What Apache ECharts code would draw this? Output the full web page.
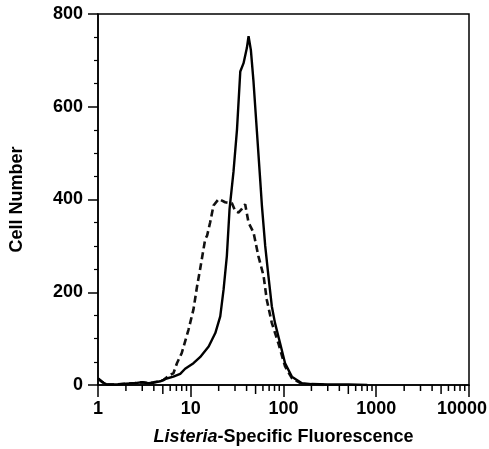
<!DOCTYPE html>
<html>
<head>
<meta charset="utf-8">
<script src="https://cdn.jsdelivr.net/npm/echarts@6/dist/echarts.min.js"></script>
<style>
html,body{margin:0;padding:0;background:#fff;}
#c{width:489px;height:449px;}
</style>
</head>
<body>
<div id="c"></div>
<script>
// Fluorescence (x, log scale) and cell counts (y)
const solidX = [1, 1.05, 1.12, 1.25, 1.6, 2, 2.5, 3, 3.5, 4, 4.7, 5.5, 6.5, 7.7, 8.7, 10.7, 12.6, 15.6, 18.4, 20.8, 22.6, 24.5, 26.2, 28.9, 31.5, 34.2, 37.1, 40.3, 42, 44.5, 47.5, 51.7, 56, 58.5, 63.5, 68.8, 74.8, 80.9, 91.9, 104, 123, 158, 200, 300, 500, 800];
const solidY = [14, 18, 6, 1, 1, 3, 4, 6, 4, 5, 8, 14, 18, 24, 35, 47, 60, 83, 112, 148, 206, 278, 379, 460, 550, 676, 694, 727, 752, 722, 654, 546, 444, 387, 300, 235, 170, 134, 90, 47, 18, 4, 2, 1, 1, 0];
const dashX = [1, 1.05, 1.12, 1.25, 1.6, 2, 2.5, 3, 3.5, 4, 4.6, 5.1, 6, 6.5, 7.1, 8, 9.45, 10.7, 11.7, 12.6, 14.3, 15, 16.2, 17.6, 20, 23.5, 27.8, 30.2, 32.7, 35, 38.6, 42, 47.5, 53.6, 58.5, 61, 66, 74.8, 88, 104, 123, 158, 200, 300];
const dashY = [14, 18, 6, 1, 1, 3, 4, 6, 4, 6, 8, 11, 22, 25, 47, 69, 119, 163, 213, 249, 314, 322, 351, 387, 401, 394, 392, 375, 372, 378, 390, 350, 329, 278, 249, 235, 184, 134, 90, 40, 15, 2, 1, 0];
const xMinorTicks = [2,3,4,5,6,7,8,9,20,30,40,50,60,70,80,90,200,300,400,500,600,700,800,900,2000,3000,4000,5000,6000,7000,8000,9000];
const yTicks = [0, 200, 400, 600, 800];

const solidData = solidX.map((x, i) => [x, solidY[i]]);
const dashData = dashX.map((x, i) => [x, dashY[i]]);
const FONT = '"Liberation Sans", Arial, Helvetica, sans-serif';

const chart = echarts.init(document.getElementById('c'), null, {renderer: 'canvas'});
chart.setOption({
  animation: false,
  backgroundColor: '#fff',
  grid: {left: 98, right: 20, top: 14, bottom: 64, show: true, borderColor: '#000', borderWidth: 1.5, backgroundColor: 'transparent', containLabel: false, outerBoundsMode: 'none'},
  xAxis: {
    type: 'log', logBase: 10, min: 1, max: 10000,
    axisLine: {lineStyle: {color: '#000', width: 1.5}},
    axisTick: {show: true, length: 12, lineStyle: {color: '#000', width: 1.5}},
    axisLabel: {
      color: '#000', fontFamily: FONT, fontWeight: 'bold', fontSize: 18, margin: 15,
      formatter: v => (v >= 10000 ? '{e|' + v + '}' : String(v)),
      rich: {e: {fontFamily: FONT, fontWeight: 'bold', fontSize: 18, color: '#000', padding: [0, 14, 0, 0]}}
    },
    splitLine: {show: false},
    name: '{i|Listeria}{n|-Specific Fluorescence}',
    nameLocation: 'middle', nameGap: 43,
    nameTextStyle: {
      rich: {
        i: {fontFamily: FONT, fontWeight: 'bold', fontStyle: 'italic', fontSize: 18, color: '#000'},
        n: {fontFamily: FONT, fontWeight: 'bold', fontSize: 18, color: '#000'}
      }
    }
  },
  yAxis: {
    type: 'value', min: yTicks[0], max: yTicks[yTicks.length - 1], interval: 200,
    axisLine: {show: true, lineStyle: {color: '#000', width: 1.5}},
    axisTick: {show: true, length: 10, lineStyle: {color: '#000', width: 1.5}},
    minorTick: {show: true, splitNumber: 4, length: 4, lineStyle: {color: '#000', width: 1.2}},
    axisLabel: {color: '#000', fontFamily: FONT, fontWeight: 'bold', fontSize: 18, margin: 15},
    splitLine: {show: false},
    name: 'Cell Number', nameLocation: 'middle', nameGap: 72,
    nameTextStyle: {color: '#000', fontFamily: FONT, fontWeight: 'bold', fontSize: 18}
  },
  series: [
    {
      type: 'custom', silent: true, clip: false, z: 1,
      data: xMinorTicks.map(v => [v, 0]),
      renderItem: function (params, api) {
        const v = api.value(0);
        const p = api.coord([v, 0]);
        const lead = Math.round(v / Math.pow(10, Math.floor(Math.log10(v) + 1e-9)));
        const len = lead === 5 ? 9 : 6;
        return {type: 'line', shape: {x1: p[0], y1: p[1], x2: p[0], y2: p[1] + len}, style: {stroke: '#000', lineWidth: 1.5}};
      }
    },
    {
      type: 'line', data: dashData, showSymbol: false, smooth: false, z: 3,
      lineStyle: {color: '#111', width: 2.6, type: [7, 4]}
    },
    {
      type: 'line', data: solidData, showSymbol: false, smooth: false, z: 4,
      lineStyle: {color: '#000', width: 2.4}
    }
  ]
});
</script>
</body>
</html>
